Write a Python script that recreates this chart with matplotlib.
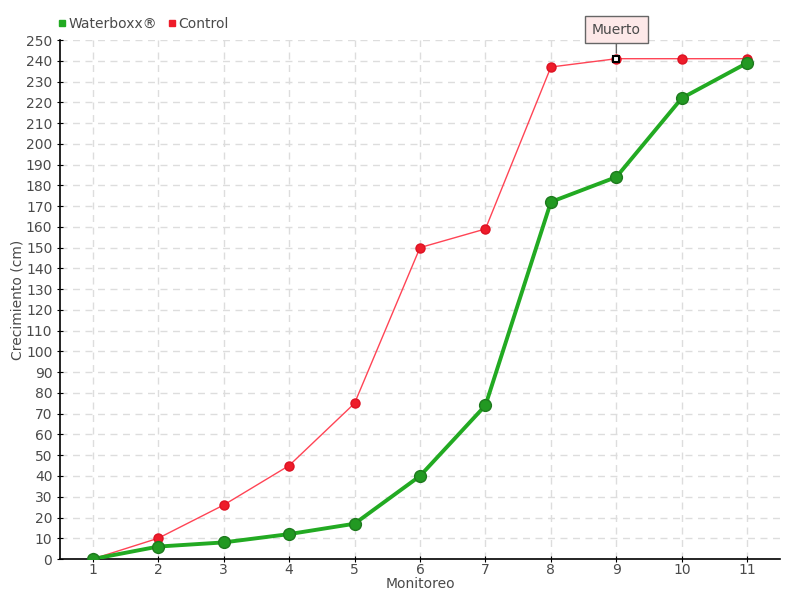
import matplotlib
matplotlib.use("Agg")
import matplotlib.pyplot as plt
from matplotlib.lines import Line2D

monitoreo = [1, 2, 3, 4, 5, 6, 7, 8, 9, 10, 11]
waterboxx = [0, 6, 8, 12, 17, 40, 74, 172, 184, 222, 239]
control = [0, 10, 26, 45, 75, 150, 159, 237, 241, 241, 241]
y_ticks = list(range(0, 251, 10))
dead_index = 8
dead_label = "Muerto"

plt.rcParams['font.family'] = ['DejaVu Sans']
txt = '#4a4a4a'

fig = plt.figure(figsize=(8, 6), dpi=100)
ax = fig.add_axes([0.075, 0.0683, 0.9, 0.865])

ax.plot(monitoreo, control, color='#ff4455', lw=1, zorder=3)
ax.plot(monitoreo, control, 'o', color='#ee1c2a', ms=6.5, mec='#dd1122', zorder=4)
ax.plot(monitoreo, waterboxx, color='#22aa22', lw=2.8, zorder=5)
ax.plot(monitoreo, waterboxx, 'o', color='#229922', ms=8.5, mec='#1d7a1d', mew=1, zorder=6)
# dead marker
ax.plot(monitoreo[dead_index], control[dead_index], 's', color='white', mec='black', ms=5, mew=1.5, zorder=7)

ax.annotate(dead_label, xy=(monitoreo[dead_index], control[dead_index]), xytext=(0, 21),
            textcoords='offset points', ha='center', va='center', fontsize=10, color=txt,
            bbox=dict(boxstyle='square,pad=0.5', fc='#fde8e8', ec='#666666', lw=1),
            arrowprops=dict(arrowstyle='-', color='#666666', lw=1, shrinkA=0, shrinkB=4))

ax.set_xlim(0.5, 11.5)
ax.set_ylim(0, 250)
ax.set_xticks(monitoreo)
ax.set_yticks(y_ticks)
ax.tick_params(axis='both', colors='black', labelcolor=txt, labelsize=10, length=4, direction='inout')
ax.tick_params(axis='x', pad=1)
ax.grid(True, color='#dddddd', ls=(0, (5, 4)), lw=1)
ax.set_axisbelow(True)
for s in ['top', 'right']:
    ax.spines[s].set_visible(False)
ax.spines['left'].set_linewidth(1.2)
ax.spines['bottom'].set_linewidth(1.2)

ax.set_xlabel('Monitoreo', color=txt, fontsize=10, labelpad=0)
ax.set_ylabel('Crecimiento (cm)', color=txt, fontsize=10, labelpad=1)

handles = [Line2D([], [], marker='s', ls='', color='#22aa22', ms=5),
           Line2D([], [], marker='s', ls='', color='#ee1c2a', ms=5)]
fig.legend(handles, ['Waterboxx®', 'Control'], loc='upper left', bbox_to_anchor=(0.055, 0.993),
           ncol=2, frameon=False, fontsize=10, handletextpad=0.1, columnspacing=0.6,
           handlelength=0.8, labelcolor=txt)

fig.savefig('out.png', dpi=100)
